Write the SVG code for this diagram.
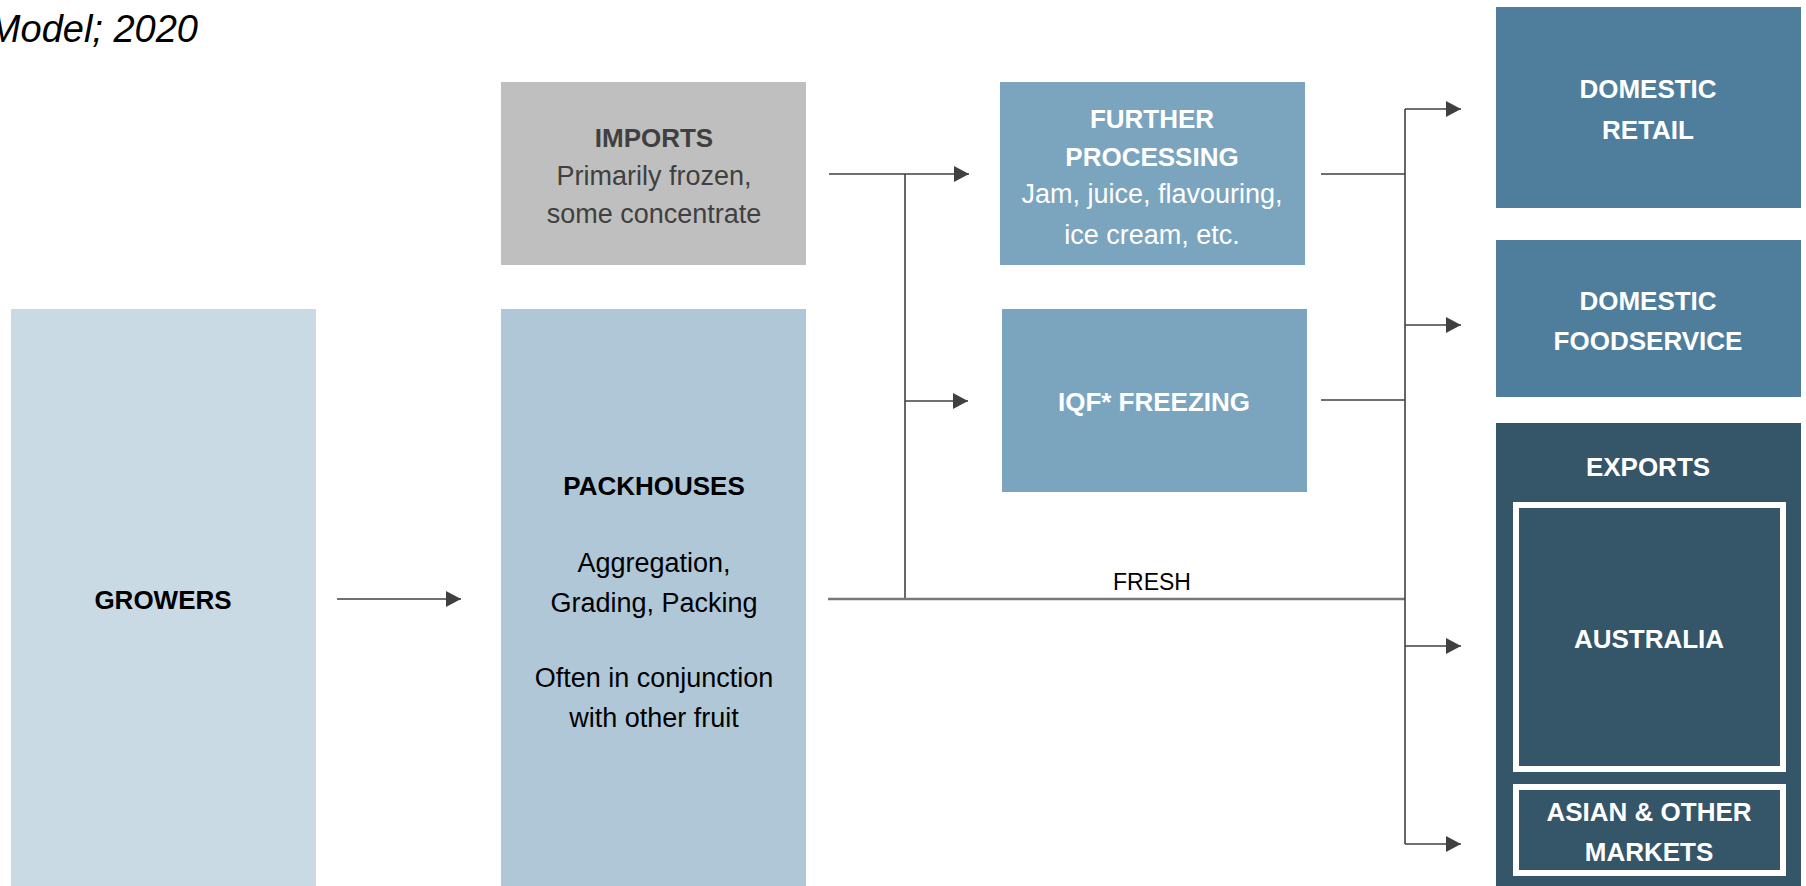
<svg xmlns="http://www.w3.org/2000/svg" width="1806" height="886" viewBox="0 0 1806 886">
<defs>
<marker id="arr" markerUnits="userSpaceOnUse" markerWidth="16" markerHeight="16" refX="15" refY="8" orient="auto"><path d="M0,0 L15,8 L0,16 Z" fill="#404040"/></marker>
<style>
text{font-family:"Liberation Sans",Arial,sans-serif;text-anchor:middle}
.b{font-weight:bold;font-size:26px}
.r{font-size:27px}
.w{fill:#ffffff}
.k{fill:#000000}
.g{fill:#404040}
.ln{stroke:#404040;stroke-width:1.6;fill:none}
.fr{stroke:#787878;stroke-width:2.4;fill:none}
</style>
</defs>
<rect width="1806" height="886" fill="#ffffff"/>
<text x="198" y="42" font-style="italic" font-size="38" style="text-anchor:end" class="k">Model; 2020</text>

<g id="connectors">
<line class="ln" x1="337" y1="599" x2="461" y2="599" marker-end="url(#arr)"/>
<line class="ln" x1="829" y1="174" x2="969" y2="174" marker-end="url(#arr)"/>
<line class="ln" x1="905" y1="174" x2="905" y2="599"/>
<line class="ln" x1="905" y1="401" x2="968" y2="401" marker-end="url(#arr)"/>
<line class="fr" x1="828" y1="599" x2="1405" y2="599"/>
<line class="ln" x1="1321" y1="174" x2="1405" y2="174"/>
<line class="ln" x1="1321" y1="400" x2="1405" y2="400"/>
<line class="ln" x1="1405" y1="109" x2="1405" y2="844"/>
<line class="ln" x1="1405" y1="109" x2="1461" y2="109" marker-end="url(#arr)"/>
<line class="ln" x1="1405" y1="325" x2="1461" y2="325" marker-end="url(#arr)"/>
<line class="ln" x1="1405" y1="646" x2="1461" y2="646" marker-end="url(#arr)"/>
<line class="ln" x1="1405" y1="844" x2="1461" y2="844" marker-end="url(#arr)"/>
<text x="1152" y="590" font-size="23" class="k">FRESH</text>
</g>

<g id="growers">
<rect x="11" y="309" width="305" height="577" fill="#c9dae5"/>
<text x="163" y="609" class="b k">GROWERS</text>
</g>

<g id="packhouses">
<rect x="501" y="309" width="305" height="577" fill="#b0c7d7"/>
<text x="654" y="495" class="b k">PACKHOUSES</text>
<text x="654" y="572" class="r k" font-size="28">Aggregation,</text>
<text x="654" y="612" class="r k" font-size="28">Grading, Packing</text>
<text x="654" y="687" class="r k" font-size="28">Often in conjunction</text>
<text x="654" y="727" class="r k" font-size="28">with other fruit</text>
</g>

<g id="imports">
<rect x="501" y="82" width="305" height="183" fill="#bfbfbf"/>
<text x="654" y="147" class="b g">IMPORTS</text>
<text x="654" y="185" class="r g">Primarily frozen,</text>
<text x="654" y="223" class="r g">some concentrate</text>
</g>

<g id="further-processing">
<rect x="1000" y="82" width="305" height="183" fill="#7ba5bf"/>
<text x="1152" y="128" class="b w">FURTHER</text>
<text x="1152" y="166" class="b w">PROCESSING</text>
<text x="1152" y="203" class="r w" font-size="26">Jam, juice, flavouring,</text>
<text x="1152" y="244" class="r w" font-size="26">ice cream, etc.</text>
</g>

<g id="iqf-freezing">
<rect x="1002" y="309" width="305" height="183" fill="#7ba5bf"/>
<text x="1154" y="411" class="b w">IQF* FREEZING</text>
</g>

<g id="domestic-retail">
<rect x="1496" y="7" width="305" height="201" fill="#4f7e9c"/>
<text x="1648" y="98" class="b w" font-size="27">DOMESTIC</text>
<text x="1648" y="139" class="b w" font-size="27">RETAIL</text>
</g>

<g id="domestic-foodservice">
<rect x="1496" y="240" width="305" height="157" fill="#4f7e9c"/>
<text x="1648" y="310" class="b w" font-size="27">DOMESTIC</text>
<text x="1648" y="350" class="b w" font-size="27">FOODSERVICE</text>
</g>

<g id="exports">
<rect x="1496" y="423" width="305" height="463" fill="#355569"/>
<text x="1648" y="476" class="b w" font-size="27">EXPORTS</text>
<g id="australia">
<rect x="1516" y="505" width="267" height="264" fill="none" stroke="#ffffff" stroke-width="6"/>
<text x="1649" y="648" class="b w" font-size="27">AUSTRALIA</text>
</g>
<g id="asian-other">
<rect x="1516" y="787" width="267" height="86" fill="none" stroke="#ffffff" stroke-width="6"/>
<text x="1649" y="821" class="b w" font-size="27">ASIAN &amp; OTHER</text>
<text x="1649" y="861" class="b w" font-size="27">MARKETS</text>
</g>
</g>
</svg>
